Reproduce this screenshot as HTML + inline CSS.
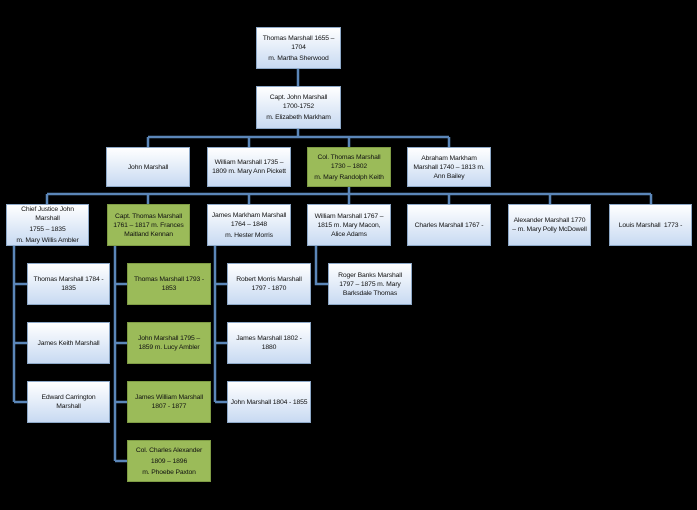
<!DOCTYPE html>
<html><head><style>
body{margin:0;width:697px;height:510px;background:#000;position:relative;overflow:hidden;font-family:"Liberation Sans",sans-serif;}
.b{position:absolute;box-sizing:border-box;border:1px solid #8ea9c8;background:linear-gradient(#fff,#c8daf2);display:flex;flex-direction:column;justify-content:center;align-items:center;text-align:center;font-size:6.8px;letter-spacing:-0.15px;line-height:9px;color:#111;padding:0;white-space:nowrap;}
.g{background:#9bbb59;border-color:#7f9c45;}
.b p{margin:1px 0;}
</style></head><body>
<svg width="697" height="510" style="position:absolute;left:0;top:0">
<g stroke="#5b86b8" stroke-width="2.5" fill="none">
<path d="M298 69V86M298 129V137M148 137H449M148 137V147M249 137V147M349 137V147M449 137V147"/>
<path d="M349 187V194M47 194H651M47 194V204M148 194V204M249 194V204M349 194V204M449 194V204M550 194V204M651 194V204"/>
<path d="M14 246V402M14 284H27M14 343H27M14 402H27"/>
<path d="M115 246V461M115 284H127M115 343H127M115 402H127M115 461H127"/>
<path d="M215 246V402M215 284H227M215 343H227M215 402H227"/>
<path d="M316 246V284H328"/>
</g></svg>
<div class="b" style="left:256px;top:27px;width:85px;height:42px"><p>Thomas Marshall 1655 –<br>1704</p><p>m. Martha Sherwood</p></div>
<div class="b" style="left:256px;top:86px;width:85px;height:43px"><p>Capt. John Marshall<br>1700-1752</p><p>m. Elizabeth Markham</p></div>
<div class="b" style="left:106px;top:147px;width:84px;height:40px">John Marshall</div>
<div class="b" style="left:207px;top:147px;width:84px;height:40px">William Marshall 1735 –<br>1809 m. Mary Ann Pickett</div>
<div class="b g" style="left:307px;top:147px;width:84px;height:40px"><p>Col. Thomas Marshall<br>1730 – 1802</p><p>m. Mary Randolph Keith</p></div>
<div class="b" style="left:407px;top:147px;width:84px;height:40px">Abraham Markham<br>Marshall 1740 – 1813 m.<br>Ann Bailey</div>
<div class="b" style="left:6px;top:204px;width:83px;height:42px"><p>Chief Justice John<br>Marshall</p><p>1755 – 1835</p><p>m. Mary Willis Ambler</p></div>
<div class="b g" style="left:107px;top:204px;width:83px;height:42px">Capt. Thomas Marshall<br>1761 – 1817 m. Frances<br>Maitland Kennan</div>
<div class="b" style="left:207px;top:204px;width:84px;height:42px"><p>James Markham Marshall<br>1764 – 1848</p><p>m. Hester Morris</p></div>
<div class="b" style="left:307px;top:204px;width:84px;height:42px">William Marshall 1767 –<br>1815 m. Mary Macon,<br>Alice Adams</div>
<div class="b" style="left:407px;top:204px;width:84px;height:42px">Charles Marshall 1767 -</div>
<div class="b" style="left:508px;top:204px;width:83px;height:42px">Alexander Marshall 1770<br>– m. Mary Polly McDowell</div>
<div class="b" style="left:609px;top:204px;width:83px;height:42px">Louis Marshall&nbsp; 1773 -</div>
<div class="b" style="left:27px;top:263px;width:83px;height:42px">Thomas Marshall 1784 -<br>1835</div>
<div class="b" style="left:27px;top:322px;width:83px;height:42px">James Keith Marshall</div>
<div class="b" style="left:27px;top:381px;width:83px;height:42px">Edward Carrington<br>Marshall</div>
<div class="b g" style="left:127px;top:263px;width:84px;height:42px">Thomas Marshall 1793 -<br>1853</div>
<div class="b g" style="left:127px;top:322px;width:84px;height:42px">John Marshall 1795 –<br>1859 m. Lucy Ambler</div>
<div class="b g" style="left:127px;top:381px;width:84px;height:42px">James William Marshall<br>1807 - 1877</div>
<div class="b g" style="left:127px;top:440px;width:84px;height:42px"><p>Col. Charles Alexander</p><p>1809 – 1896</p><p>m. Phoebe Paxton</p></div>
<div class="b" style="left:227px;top:263px;width:84px;height:42px">Robert Morris Marshall<br>1797 - 1870</div>
<div class="b" style="left:227px;top:322px;width:84px;height:42px">James Marshall 1802 -<br>1880</div>
<div class="b" style="left:227px;top:381px;width:84px;height:42px">John Marshall 1804 - 1855</div>
<div class="b" style="left:328px;top:263px;width:84px;height:42px">Roger Banks Marshall<br>1797 – 1875 m. Mary<br>Barksdale Thomas</div>
</body></html>
